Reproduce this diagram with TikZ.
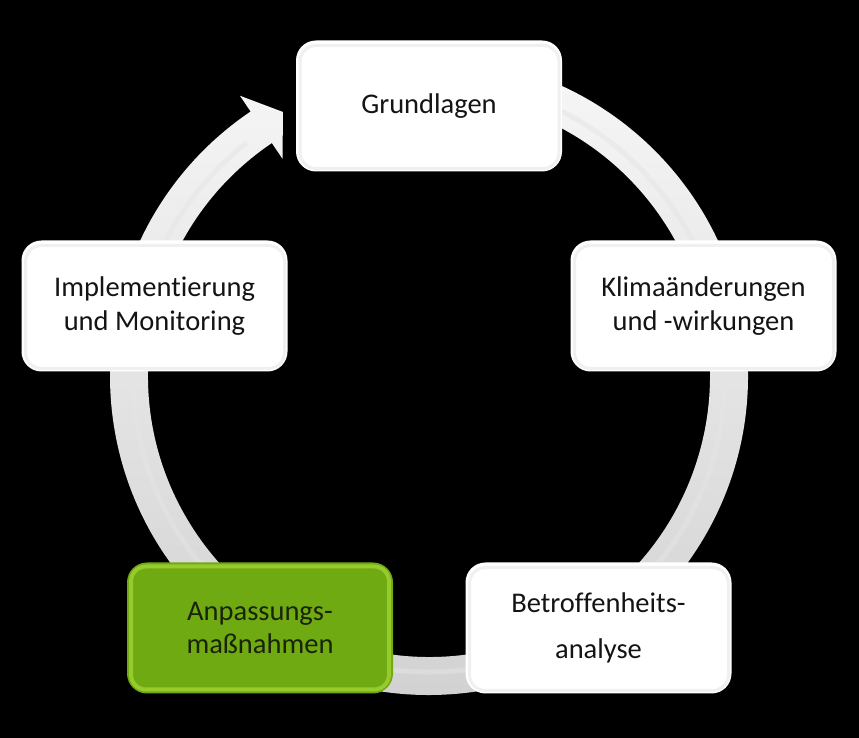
\documentclass[tikz,border=0pt]{standalone}
\usepackage{fontspec}
\setmainfont{Carlito}[Ligatures=NoCommon]
\definecolor{lgreen}{RGB}{112,170,18}
\definecolor{hgreen}{RGB}{150,202,45}
\definecolor{gtext}{RGB}{25,35,5}
\tikzset{
  box/.style={rectangle, rounded corners=20pt, minimum width=266pt, minimum height=131pt,
    inner sep=0pt, align=center, fill=white, text=black!92,
    font=\fontsize{28.5}{33.5}\selectfont,
    path picture={\draw[line width=3pt, draw=black!6, rounded corners=16pt]
      ([shift={(4pt,3pt)}]path picture bounding box.south west) rectangle
      ([shift={(-3pt,-5pt)}]path picture bounding box.north east);}},
  greenbox/.style={box, fill=lgreen, text=gtext,
    path picture={\draw[line width=4pt, draw=hgreen, rounded corners=15pt]
      ([shift={(4pt,4pt)}]path picture bounding box.south west) rectangle
      ([shift={(-4pt,-4pt)}]path picture bounding box.north east);}},
  ring/.style={top color=black!3, bottom color=black!18},
}
\begin{document}
\begin{tikzpicture}[x=1pt,y=1pt]
\fill[black] (0,0) rectangle (859,738);
\useasboundingbox (0,0) rectangle (859,738);
% circular arrow ring
\begin{scope}[shift={(429,362)}]
  \coordinate (tip) at (-146,264);
  \fill[ring] (95:319pt) arc[start angle=95, end angle=-236, radius=319pt]
     -- (124:338pt) -- (tip) -- (124:262pt) -- (124:281pt)
     arc[start angle=-236, end angle=95, radius=281pt] -- cycle;
  \draw[black!10, line width=5pt, opacity=0.5] (95:296pt) arc[start angle=95, end angle=-232, radius=296pt];
\end{scope}
% boxes
\node[box] (grund) at (429,632) {Grundlagen};
\node[box] (klima) at (703.5,432) {Klimaänderungen\\und -wirkungen};
\node[box] (betr) at (598.5,110) {Betroffenheits-\\[12pt]analyse};
\node[greenbox] (anp) at (260,110) {Anpassungs-\\maßnahmen};
\node[box] (impl) at (154.5,432) {Implementierung\\und Monitoring};
\end{tikzpicture}
\end{document}
